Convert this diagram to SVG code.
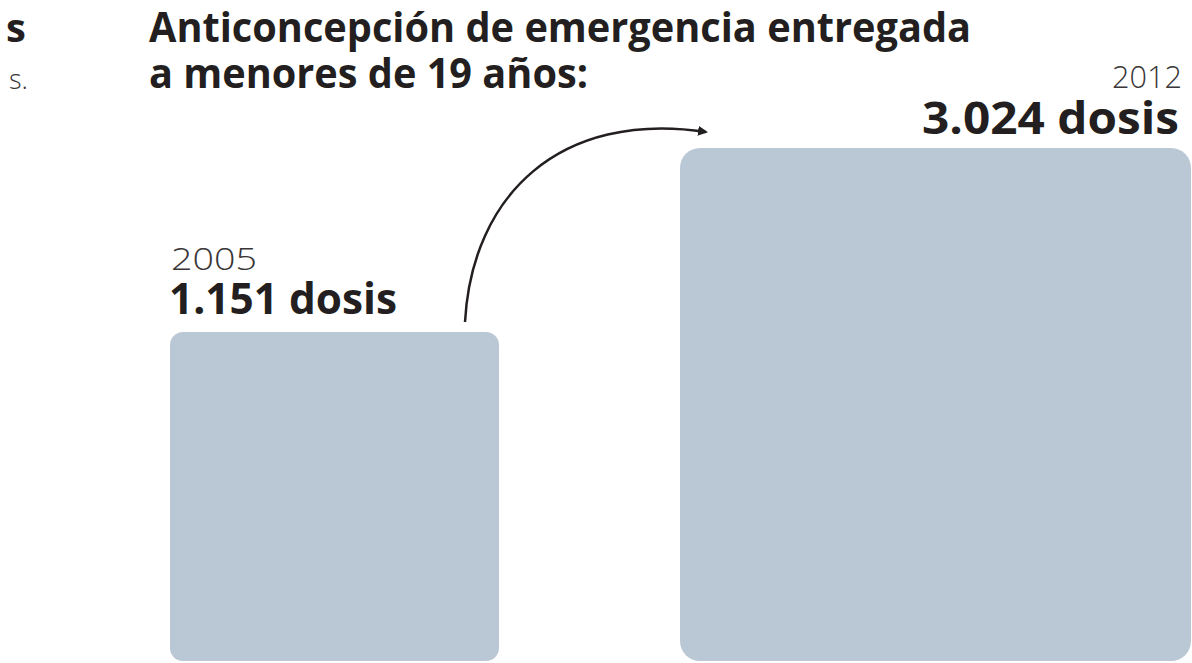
<svg xmlns="http://www.w3.org/2000/svg" width="1192" height="663" viewBox="0 0 1192 663">
<style>
.t{font-family:"Open Sans","Liberation Sans",sans-serif;fill:#231f20}
.b{font-weight:700}
.l{font-weight:300;fill:#3a3637}
.box{fill:#bac8d5}
.conn{fill:none;stroke:#231f20;stroke-width:2.5}
</style>
<defs>
<marker id="ah" viewBox="0 0 10 10" refX="8" refY="5" markerWidth="4" markerHeight="4" orient="auto" markerUnits="strokeWidth">
<path d="M0,0 L10,5 L0,10 Z" fill="#231f20"/>
</marker>
</defs>
<rect width="1192" height="663" fill="#ffffff"/>
<g id="edge-text">
<text class="t b" x="6" y="42" font-size="40">s</text>
<text class="t l" x="9" y="89" font-size="27">s.</text>
</g>
<g id="title">
<text class="t b" x="149" y="42" font-size="41" textLength="822" lengthAdjust="spacingAndGlyphs">Anticoncepción de emergencia entregada</text>
<text class="t b" x="149" y="88" font-size="41" textLength="439" lengthAdjust="spacingAndGlyphs">a menores de 19 años:</text>
</g>
<g id="node-2005">
<rect class="box" x="170" y="332" width="329" height="329" rx="13"/>
<text class="t l" x="171" y="270" font-size="31" textLength="86" lengthAdjust="spacingAndGlyphs">2005</text>
<text class="t b" x="169" y="314" font-size="43" textLength="228" lengthAdjust="spacingAndGlyphs">1.151 dosis</text>
</g>
<g id="node-2012">
<rect class="box" x="680" y="148" width="511" height="513" rx="20"/>
<text class="t l" x="1182" y="88" font-size="31" text-anchor="end" textLength="70" lengthAdjust="spacingAndGlyphs">2012</text>
<text class="t b" x="1179" y="134" font-size="45" text-anchor="end" textLength="257" lengthAdjust="spacingAndGlyphs">3.024 dosis</text>
</g>
<g id="connectors">
<path class="conn" d="M465,322 C472,195 560,110 706,132" marker-end="url(#ah)"/>
</g>
</svg>
